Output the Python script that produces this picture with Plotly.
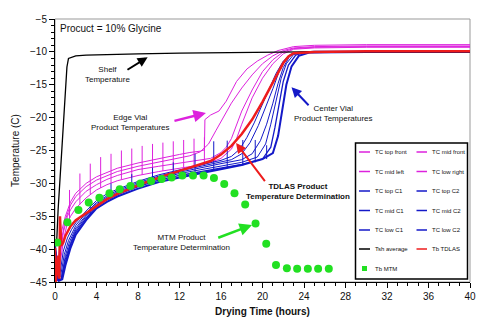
import plotly.graph_objects as go

FONT = "Arial, Liberation Sans, Helvetica, sans-serif"
MAG = "#dd22dd"
BLU = "#1419c8"
RED = "#ee1c1c"
BLK = "#000000"
GRN = "#22e022"

# ---------------- data (hours, deg C) ----------------
shelf_x = [0, 0.15, 0.3, 0.45, 0.6, 0.8, 1.0, 1.15, 1.3, 1.6, 2, 3, 5, 8, 12, 16, 20, 24, 30, 40]
shelf_y = [-39.0, -39.3, -34, -30, -27, -22.4, -15.5, -12.3, -11.0, -10.8, -10.6, -10.5, -10.4, -10.3, -10.2, -10.1, -10.0, -10.0, -10.0, -10.0]

tc_top_front_x = [0, 0.2, 0.35, 0.6, 1.0, 1.5, 2, 3, 4, 5, 6, 8, 10, 12, 13, 14, 14.4, 14.45, 15, 15.8, 16.5, 17.5, 18.5, 19.5, 20.5, 21.5, 23, 25, 30, 40]
tc_top_front_y = [-39.5, -44.8, -41, -37.5, -35, -32.8, -31.5, -30.0, -29.0, -28.3, -27.7, -26.9, -26.2, -25.6, -25.3, -25.1, -24.9, -20.3, -19.6, -19.0, -17.5, -14.5, -12.6, -11.4, -10.5, -9.8, -9.2, -9.0, -8.9, -8.9]

tc_mid_front_x = [0, 0.25, 0.4, 0.7, 1.0, 1.5, 2, 3, 4, 5, 6, 8, 10, 12, 13, 14, 14.8, 15.5, 16.2, 17, 18, 19, 20, 21, 22, 23, 25, 30, 40]
tc_mid_front_y = [-39.5, -44.8, -42, -38, -35.5, -33.3, -32.0, -30.5, -29.5, -28.8, -28.2, -27.4, -26.8, -26.2, -25.8, -25.2, -24.0, -22.0, -20.0, -17.8, -15.5, -13.5, -11.8, -10.6, -9.8, -9.4, -9.2, -9.1, -9.1]

tc_mid_left_x = [0, 0.3, 0.45, 0.8, 1.2, 1.5, 2, 3, 4, 5, 6, 8, 10, 12, 14, 15, 16, 16.5, 17, 17.5, 18, 19, 20, 21, 22, 23, 25, 30, 40]
tc_mid_left_y = [-39.5, -44.8, -41.5, -37.5, -35, -34, -32.8, -31.2, -30.2, -29.4, -28.8, -27.9, -27.4, -26.9, -26.5, -26.2, -25.3, -24.5, -23.2, -21.0, -19.0, -15.8, -13.0, -11.2, -10.0, -9.5, -9.3, -9.2, -9.2]

tc_low_right_x = [0, 0.3, 0.5, 0.9, 1.2, 1.5, 2, 3, 4, 5, 6, 8, 10, 12, 14, 15, 16, 17, 17.5, 18, 18.5, 19, 20, 21, 22, 23, 25, 30, 40]
tc_low_right_y = [-39.5, -44.8, -42, -38, -36, -35, -33.8, -32.2, -31.0, -30.2, -29.6, -28.8, -28.2, -27.7, -27.2, -26.8, -26.2, -24.8, -23.2, -21.0, -19.0, -17.0, -14.0, -11.8, -10.3, -9.6, -9.4, -9.3, -9.3]

tc_top_c1_x = [0, 0.3, 0.5, 0.8, 1.2, 1.6, 2, 3, 4, 5, 6, 8, 10, 12, 14, 16, 17, 17.8, 18.5, 19.2, 19.9, 20.6, 21.3, 22.0, 22.6, 23.2, 25, 30, 40]
tc_top_c1_y = [-39.5, -44.8, -43.5, -40.3, -38.3, -37.0, -36.0, -34.2, -32.6, -31.6, -30.9, -29.7, -28.7, -27.9, -27.2, -26.5, -25.9, -24.8, -23.0, -20.8, -18.2, -15.8, -13.3, -11.4, -10.5, -10.1, -9.9, -9.9, -9.9]

tc_top_c2_x = [0, 0.3, 0.55, 0.9, 1.3, 1.7, 2, 3, 4, 5, 6, 8, 10, 12, 14, 16, 17, 18, 18.8, 19.6, 20.3, 21.0, 21.6, 22.3, 23.0, 25, 30, 40]
tc_top_c2_y = [-39.5, -44.8, -44, -40.8, -38.7, -37.3, -36.4, -34.5, -32.9, -31.9, -31.1, -29.9, -28.9, -28.1, -27.4, -26.8, -26.4, -25.5, -23.8, -21.2, -18.5, -15.6, -13.0, -11.0, -10.2, -10.0, -10.0, -10.0]

tc_mid_c1_x = [0, 0.3, 0.6, 1.0, 1.4, 2, 3, 4, 5, 6, 8, 10, 12, 14, 16, 18, 19, 19.8, 20.4, 21.0, 21.5, 22.0, 22.6, 23.3, 25, 30, 40]
tc_mid_c1_y = [-39.5, -44.8, -44.5, -41, -38.9, -36.8, -34.8, -33.1, -32.1, -31.3, -30.1, -29.1, -28.3, -27.6, -27.0, -26.4, -25.5, -23.5, -21.0, -17.8, -14.8, -12.4, -10.7, -10.1, -10.0, -10.0, -10.0]

tc_mid_c2_x = [0, 0.35, 0.6, 1.0, 1.5, 2, 3, 4, 5, 6, 8, 10, 12, 14, 16, 18, 19.5, 20.3, 20.8, 21.3, 21.8, 22.3, 23, 24, 30, 40]
tc_mid_c2_y = [-39.5, -44.8, -44.5, -41.5, -39.0, -37.1, -35.0, -33.3, -32.3, -31.5, -30.3, -29.3, -28.5, -27.9, -27.3, -26.8, -26.0, -24.0, -21.0, -17.5, -14.0, -11.8, -10.4, -10.1, -10.0, -10.0]

tc_low_c1_x = [0, 0.35, 0.65, 1.0, 1.5, 2, 3, 4, 5, 6, 8, 10, 12, 14, 16, 18, 20, 20.8, 21.2, 21.6, 22, 22.5, 23.2, 24, 30, 40]
tc_low_c1_y = [-39.5, -44.8, -44.5, -42, -39.3, -37.4, -35.3, -33.5, -32.5, -31.7, -30.5, -29.5, -28.8, -28.2, -27.6, -27.1, -26.3, -24.5, -21.5, -18.0, -14.5, -12.0, -10.5, -10.1, -10.0, -10.0]

tc_low_c2_x = [0, 0.4, 0.7, 1.0, 1.5, 2, 3, 4, 5, 6, 8, 10, 12, 14, 16, 18, 20, 21, 21.5, 21.9, 22.3, 22.8, 23.5, 24.5, 30, 40]
tc_low_c2_y = [-39.5, -44.8, -44.6, -42.5, -39.8, -37.8, -35.6, -33.8, -32.8, -32.0, -30.8, -29.8, -29.1, -28.5, -27.9, -27.2, -26.3, -25.4, -22.8, -19.0, -15.0, -12.2, -10.6, -10.1, -10.0, -10.0]

tdlas_x = [0, 0.05, 0.15, 0.3, 0.42, 0.48, 0.6, 0.8, 1.0, 1.5, 2, 3, 4, 5, 6, 7, 8, 9, 10, 11, 12, 13, 14, 15, 16, 17, 18, 19, 20, 21, 22, 22.5, 23, 25, 30, 40]
tdlas_y = [-39.8, -45, -44, -41, -44.5, -35, -39.5, -39, -38.0, -36.5, -35.6, -34.5, -33.4, -32.4, -31.6, -30.9, -30.3, -29.7, -29.1, -28.6, -28.1, -27.6, -27.1, -26.6, -25.6, -24.3, -22.5, -20.3, -17.6, -14.7, -11.7, -10.7, -10.2, -10.0, -9.9, -9.9]

mtm_x = [0.21, 1.2, 2.26, 3.25, 4.28, 5.25, 6.24, 7.27, 8.23, 9.26, 10.28, 11.24, 12.27, 13.3, 14.32, 15.32, 16.31, 17.3, 18.33, 19.33, 20.36, 21.3, 22.35, 23.34, 24.37, 25.36, 26.39]
mtm_y = [-39.0, -35.9, -34.05, -32.9, -32.2, -31.5, -30.9, -30.4, -30.0, -29.65, -29.35, -29.1, -28.8, -28.8, -28.8, -29.2, -30.1, -31.5, -33.2, -36.1, -39.2, -42.4, -42.9, -43.0, -43.0, -43.0, -43.0]

# temperature jumps seen at each MTM test (vertical spikes)
edge_spike_x = [1.4, 2.4, 3.4, 4.4, 5.4, 6.4, 7.4, 8.4, 9.4, 10.4, 11.4, 12.4, 13.4, 14.4]
edge_spike_lo = [-35.3, -33.2, -31.7, -30.7, -30.0, -29.4, -29.0, -28.7, -28.4, -28.1, -27.8, -27.6, -27.4, -27.2]
edge_spike_hi = [-31.0, -28.5, -27.0, -26.0, -25.5, -25.0, -24.7, -24.3, -24.0, -23.8, -23.6, -23.4, -23.2, -23.0]

center_spike_x = [3.4, 5.4, 7.4, 9.4, 11.4, 13.5, 15.3, 16.6, 18.1, 19.3, 20.4]
center_spike_lo = [-34.8, -32.4, -31.1, -30.1, -29.3, -28.6, -28.0, -27.7, -27.3, -26.8, -26.3]
center_spike_hi = [-32.5, -30.0, -28.6, -27.6, -26.8, -25.5, -23.6, -23.5, -23.4, -23.4, -24.2]

x_ticks = [0, 4, 8, 12, 16, 20, 24, 28, 32, 36, 40]
y_ticks = [-45, -40, -35, -30, -25, -20, -15, -10, -5]

legend_col1 = ["TC top front", "TC mid left", "TC top C1", "TC mid C1", "TC low C1", "Tsh average", "Tb MTM"]
legend_col2 = ["TC mid front", "TC low right", "TC top C2", "TC mid C2", "TC low C2", "Tb TDLAS"]

# ---------------- figure ----------------
W, H = 499, 330
ML, MR, MT, MB = 55, 29, 19, 48
PW, PH = W - ML - MR, H - MT - MB


def px2paper_x(px):
    return (px - ML) / PW


def px2paper_y(py):
    return (H - MB - py) / PH


fig = go.Figure()


def add_line(x, y, color, width, name):
    fig.add_trace(go.Scatter(x=x, y=y, mode="lines", name=name,
                             line=dict(color=color, width=width),
                             showlegend=False, hoverinfo="skip"))


def add_spikes(sx, lo, hi, color, name):
    xs, ys = [], []
    for a, b, c in zip(sx, lo, hi):
        xs += [a, a, None]
        ys += [b, c, None]
    fig.add_trace(go.Scatter(x=xs, y=ys, mode="lines", name=name,
                             line=dict(color=color, width=1),
                             showlegend=False, hoverinfo="skip"))


add_line(tc_top_front_x, tc_top_front_y, MAG, 1, "TC top front")
add_line(tc_mid_front_x, tc_mid_front_y, MAG, 1, "TC mid front")
add_line(tc_mid_left_x, tc_mid_left_y, MAG, 1, "TC mid left")
add_line(tc_low_right_x, tc_low_right_y, MAG, 1, "TC low right")
add_spikes(edge_spike_x, edge_spike_lo, edge_spike_hi, MAG, "edge spikes")
add_line(tc_top_c1_x, tc_top_c1_y, BLU, 1, "TC top C1")
add_line(tc_top_c2_x, tc_top_c2_y, BLU, 1, "TC top C2")
add_line(tc_mid_c1_x, tc_mid_c1_y, BLU, 1, "TC mid C1")
add_line(tc_mid_c2_x, tc_mid_c2_y, BLU, 1, "TC mid C2")
add_line(tc_low_c1_x, tc_low_c1_y, BLU, 1.3, "TC low C1")
add_line(tc_low_c2_x, tc_low_c2_y, BLU, 2, "TC low C2")
add_spikes(center_spike_x, center_spike_lo, center_spike_hi, BLU, "center spikes")
add_line(shelf_x, shelf_y, BLK, 1.3, "Tsh average")
add_line(tdlas_x, tdlas_y, RED, 2.5, "Tb TDLAS")
fig.add_trace(go.Scatter(x=mtm_x, y=mtm_y, mode="markers", name="Tb MTM",
                         marker=dict(color=GRN, size=8, symbol="circle", line=dict(width=0)),
                         showlegend=False, hoverinfo="skip"))

# ---------------- annotations ----------------
anns = []


def txt(x, y, text, size=8, bold=False, xanchor="center"):
    t = "<b>" + text.replace("<br>", "</b><br><b>") + "</b>" if bold else text
    anns.append(dict(x=x, y=y, xref="x", yref="y", text=t, showarrow=False,
                     font=dict(family=FONT, size=size, color="#111"),
                     xanchor=xanchor, yanchor="middle", align="center"))


def arrow(x, y, ax, ay, color, width):
    anns.append(dict(x=x, y=y, ax=ax, ay=ay, xref="x", yref="y", axref="x", ayref="y",
                     text="", showarrow=True, arrowhead=2, arrowsize=1.0,
                     arrowwidth=width, arrowcolor=color, standoff=0, startstandoff=0))


txt(0.29, -6.52, "Procuct = 10% Glycine", size=10, xanchor="left")
txt(5.06, -13.5, "Shelf<br>Temperature")
arrow(8.93, -10.83, 6.84, -12.86, BLK, 2)
txt(7.23, -20.8, "Edge Vial<br>Product Temperatures")
arrow(14.55, -19.3, 11.37, -20.55, MAG, 2.5)
txt(26.8, -19.37, "Center Vial<br>Product Temperatures")
arrow(22.8, -15.39, 24.58, -18.34, BLU, 2)
txt(23.42, -31.24, "TDLAS Product<br>Temperature Determination", bold=True)
arrow(17.45, -23.86, 20.34, -29.9, RED, 2)
txt(12.15, -38.99, "MTM Product<br>Temperature Determination")
arrow(18.99, -36.33, 15.59, -38.35, GRN, 2.5)

# ---------------- legend box (drawn) ----------------
shapes = []
shapes.append(dict(type="rect", xref="paper", yref="paper", x0=0, x1=1, y0=0, y1=1,
                   line=dict(color="#999999", width=1), layer="below"))
shapes.append(dict(type="rect", xref="paper", yref="paper",
                   x0=px2paper_x(355.5), x1=px2paper_x(467.5),
                   y0=px2paper_y(279), y1=px2paper_y(143),
                   line=dict(color="#000000", width=1.5), fillcolor="white", layer="above"))

row_py = [152, 171.5, 191, 210.5, 230, 249, 268.5]
col1_colors = [MAG, MAG, BLU, BLU, BLU, BLK, GRN]
col2_colors = [MAG, MAG, BLU, BLU, BLU, RED]
lf = dict(family=FONT, size=6, color="#111")

for i, (lab, col) in enumerate(zip(legend_col1, col1_colors)):
    yy = px2paper_y(row_py[i])
    if lab == "Tb MTM":
        shapes.append(dict(type="rect", xref="paper", yref="paper",
                           x0=px2paper_x(362), x1=px2paper_x(367),
                           y0=px2paper_y(row_py[i] + 2.5), y1=px2paper_y(row_py[i] - 2.5),
                           line=dict(width=0), fillcolor=col, layer="above"))
    else:
        shapes.append(dict(type="line", xref="paper", yref="paper",
                           x0=px2paper_x(359), x1=px2paper_x(370), y0=yy, y1=yy,
                           line=dict(color=col, width=1.5), layer="above"))
    anns.append(dict(x=px2paper_x(373), y=yy, xref="paper", yref="paper", text=lab,
                     showarrow=False, font=lf, xanchor="left", yanchor="middle"))

for i, (lab, col) in enumerate(zip(legend_col2, col2_colors)):
    yy = px2paper_y(row_py[i])
    shapes.append(dict(type="line", xref="paper", yref="paper",
                       x0=px2paper_x(416.5), x1=px2paper_x(427), y0=yy, y1=yy,
                       line=dict(color=col, width=1.5), layer="above"))
    anns.append(dict(x=px2paper_x(429.5), y=yy, xref="paper", yref="paper", text=lab,
                     showarrow=False, font=lf, xanchor="left", yanchor="middle"))

fig.update_layout(
    width=W, height=H,
    margin=dict(l=ML, r=MR, t=MT, b=MB, pad=0),
    paper_bgcolor="white", plot_bgcolor="white",
    showlegend=False,
    font=dict(family=FONT, size=10, color="#111"),
    annotations=anns, shapes=shapes,
    xaxis=dict(range=[0, 40], tickvals=x_ticks, ticks="outside", ticklen=5, tickwidth=1,
               tickcolor="black", showline=True, linecolor="black", linewidth=1,
               showgrid=False, zeroline=False, tickfont=dict(family=FONT, size=10, color="#111"),
               minor=dict(dtick=1, ticks="outside", ticklen=3, tickcolor="black", showgrid=False),
               title=dict(text="<b>Drying Time (hours)</b>", font=dict(family=FONT, size=10, color="#111"),
                          standoff=6)),
    yaxis=dict(range=[-45, -5], tickvals=y_ticks, ticks="outside", ticklen=5, tickwidth=1,
               tickcolor="black", showline=True, linecolor="black", linewidth=1,
               showgrid=False, zeroline=False, tickfont=dict(family=FONT, size=10, color="#111"),
               minor=dict(dtick=1, ticks="outside", ticklen=3, tickcolor="black", showgrid=False),
               title=dict(text="Temperature (C)", font=dict(family=FONT, size=10, color="#111"),
                          standoff=8)),
)

fig.write_html("out.html")
